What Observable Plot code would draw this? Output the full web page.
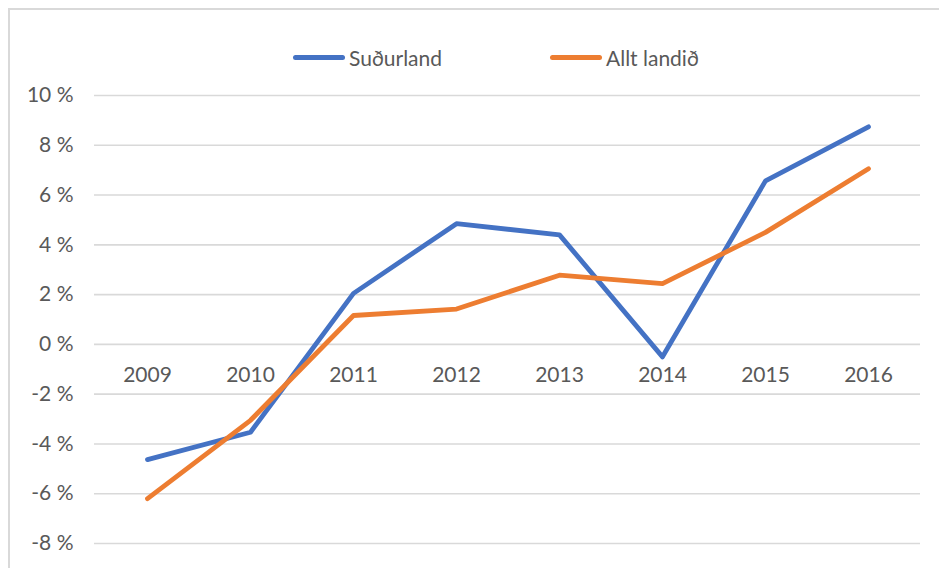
<!DOCTYPE html>
<html>
<head>
<meta charset="utf-8">
<script src="https://cdn.jsdelivr.net/npm/d3@7"></script>
<script src="https://cdn.jsdelivr.net/npm/@observablehq/plot@0.6"></script>
<style>
  html, body { margin: 0; padding: 0; background: #fff; overflow: hidden; }
  #wrap { position: relative; width: 939px; height: 568px; font-family: Lato, "Open Sans", sans-serif; }
  #frame { position: absolute; left: 8px; top: 8px; width: 1000px; height: 700px; border: 2px solid #d9d9d9; box-sizing: border-box; z-index: 2; pointer-events: none; }
  #chart { position: absolute; left: 0; top: 0; z-index: 1; }
  #legend { position: absolute; top: 44px; left: 0; width: 939px; height: 26px; font-size: 21px; color: #595959; z-index: 3; }
  .item { position: absolute; top: 0; display: flex; align-items: center; height: 26px; }
  .swatch { width: 52px; height: 5px; border-radius: 3px; margin-right: 4px; }
</style>
</head>
<body>
<div id="wrap">
  <div id="frame"></div>
  <div id="chart"></div>
  <div id="legend"></div>
</div>
<script>
const years = ["2009", "2010", "2011", "2012", "2013", "2014", "2015", "2016"];
const sudurland = [-4.63, -3.53, 2.05, 4.85, 4.4, -0.5, 6.57, 8.74];
const alltLandid = [-6.2, -3.05, 1.16, 1.42, 2.78, 2.44, 4.5, 7.06];
const seriesNames = ["Suðurland", "Allt landið"];
const seriesColors = ["#4472C4", "#ED7D31"];
const yTicks = [-8, -6, -4, -2, 0, 2, 4, 6, 8, 10];

const rows = [];
years.forEach((yr, i) => {
  rows.push({year: yr, value: sudurland[i], series: seriesNames[0]});
  rows.push({year: yr, value: alltLandid[i], series: seriesNames[1]});
});

const chart = Plot.plot({
  width: 939,
  height: 568,
  marginLeft: 94,
  marginRight: 19,
  marginTop: 95,
  marginBottom: 25,
  style: {fontFamily: "Lato, 'Open Sans', sans-serif", fontSize: "21px", color: "#595959", background: "transparent"},
  x: {type: "point", domain: years, padding: 0.5, axis: null},
  y: {domain: [-8, 10], axis: null},
  color: {domain: seriesNames, range: seriesColors},
  marks: [
    Plot.ruleY(yTicks, {stroke: "#d9d9d9", strokeWidth: 1.6}),
    Plot.axisY({ticks: yTicks, tickSize: 0, tickPadding: 21, label: null, tickFormat: d => d + " %", fill: "#595959", fontSize: 21}),
    Plot.text(years, {x: d => d, y: 0, dy: 31, text: d => d, fill: "#595959", fontSize: 21}),
    Plot.line(rows, {x: "year", y: "value", z: "series", stroke: "series", strokeWidth: 4.8, strokeLinecap: "round", strokeLinejoin: "round"})
  ]
});
document.getElementById("chart").appendChild(chart);

const legend = document.getElementById("legend");
const legendX = [293, 550];
seriesNames.forEach((name, i) => {
  const it = document.createElement("div");
  it.className = "item";
  it.style.left = legendX[i] + "px";
  const sw = document.createElement("div");
  sw.className = "swatch";
  sw.style.background = seriesColors[i];
  const tx = document.createElement("span");
  tx.textContent = name;
  it.appendChild(sw);
  it.appendChild(tx);
  legend.appendChild(it);
});
</script>
</body>
</html>
